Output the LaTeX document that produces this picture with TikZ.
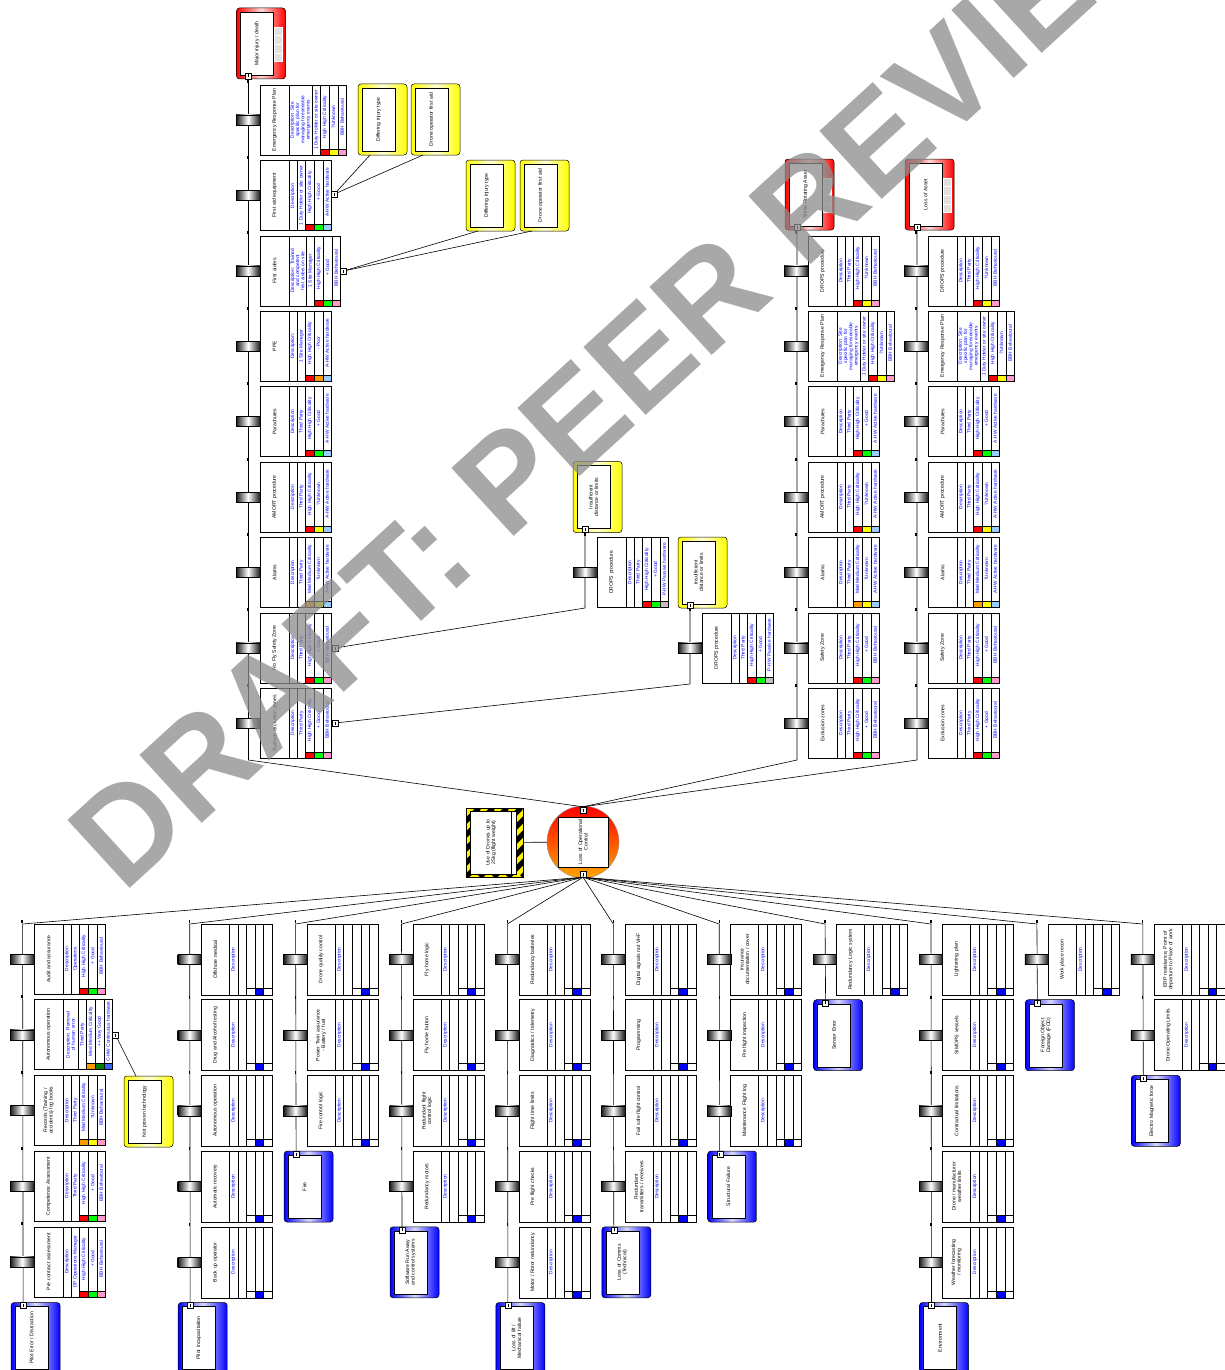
\documentclass[tikz,border=0pt]{standalone}
\usepackage{fontspec}
\setmainfont{Liberation Sans}
\usetikzlibrary{calc}
\hyphenpenalty=10000
\exhyphenpenalty=10000
\definecolor{hhigh}{HTML}{FF0000}
\definecolor{hmed}{HTML}{FF9900}
\definecolor{egood}{HTML}{00FF00}
\definecolor{evgood}{HTML}{008000}
\definecolor{eunk}{HTML}{FFFF00}
\definecolor{epoor}{HTML}{FF9900}
\definecolor{tbbh}{HTML}{FF99CC}
\definecolor{tahw}{HTML}{99CCFF}
\definecolor{tchw}{HTML}{3366FF}
\definecolor{tphw}{HTML}{C0C0C0}
\tikzset{
  ln/.style={black,line width=0.6pt},
  cell/.style={draw=black,line width=0.5pt},
  nm/.style={rotate=90,font=\fontsize{5.1}{5.6}\selectfont,align=center,text width=63pt,inner sep=0pt},
  pr/.style={rotate=90,font=\fontsize{4.8}{5.2}\selectfont,align=center,text width=62pt,inner sep=0pt,text=blue},
  minus/.style={draw,fill=white,minimum size=6pt,inner sep=0pt,line width=0.4pt},
  chipst/.style={draw=black,line width=0.3pt,left color=black!90,right color=black!90,middle color=white},
  tick/.style={line width=1.3pt}
}
% barrier with data: desc width, x,y, name, desc, resp, crit, eff, type, colours
\newcommand\bbar[9]{%
\begin{scope}[shift={(#2)}]
\pgfmathsetmacro\xa{29+#1}
\draw[cell,fill=white] (0,0) rectangle (\xa+34.4,70);
\draw[cell] (29,0) -- (29,70);
\foreach \k in {0,1,2,3} \draw[cell] (\xa+8.6*\k,0) -- (\xa+8.6*\k,70);
\foreach \cc [count=\ci] in {#9} \draw[cell,fill=\cc] (\xa+8.6*\ci,64) rectangle ++(8.6,6);
\node[nm] (bn) at (14.5,35) {#3};
\node[pr] (bd) at (29+#1/2,35) {#4};
\node[pr] (br) at (\xa+4.3,35) {#5};
\node[pr] (bc) at (\xa+12.9,32) {#6};
\node[pr] (be) at (\xa+21.5,32) {#7};
\node[pr] (bt) at (\xa+30.1,32) {#8};
\shade[chipst] (-24,30) rectangle (0,40);
\draw[tick] (-12,-4.5) -- (-12,-1.5);
\end{scope}}
% empty barrier on the threat side: column, row, name
\newcommand\tb[3]{%
\pgfmathsetmacro\bx{(#1==1 ? 22.6 : 189.7+105.9*(#1-2))+11.5}
\pgfmathsetmacro\by{924+75.7*(#2-1)}
\begin{scope}[shift={(\bx,\by)}]
\draw[cell,fill=white] (0,0) rectangle (71,71);
\foreach \k in {28,36.6,45.2,53.8,62.4} \draw[cell] (\k,0) -- (\k,71);
\draw[cell,fill=blue] (53.8,64) rectangle (62.4,71);
\draw[cell] (45.2,64) -- (71,64);
\node[nm] (tn) at (14,35.5) {#3};
\node[pr] (td) at (32.3,35.5) {Description};
\shade[chipst] (-23.5,30.5) rectangle (0,40.5);
\draw[tick] (-11.5,-4) -- (-11.5,-1);
\end{scope}}
% rounded box: name, x,y, colour, text, link y
\newcommand\riskbox[5]{%
\begin{scope}[shift={(#2)}]
\shade[draw=black,line width=.5pt,rounded corners=3pt,left color=#3,right color=#3,middle color=#3!15] (0,0) rectangle (49,71);
\draw[fill=white,line width=.4pt] (4,4) rectangle (37,67);
\node[nm,text width=60pt] (#1-t) at (20.5,35.5) {#4};
\coordinate (#1) at (12,#5);
\end{scope}}
\newcommand\thr[3]{\pgfmathsetmacro\bx{(#1==1 ? 22.6 : 189.7+105.9*(#1-2))-11.5}%
\pgfmathsetmacro\by{924+75.7*(#2-1)}\riskbox{th#1}{\bx,\by}{blue}{#3}{3}}

\begin{document}
\begin{tikzpicture}[x=1pt,y=-1pt]
\useasboundingbox (0,0) rectangle (1225,1370);
\clip (0,0) rectangle (1225,1370);
\fill[white] (0,0) rectangle (1225,1370);

% hazard
\begin{scope}
\clip (466,808) rectangle (523,877);
\fill[yellow] (466,808) rectangle (523,877);
\foreach \s in {-84,-70,...,70} \draw[line width=5pt] (466+\s,877) -- ++(69,-69);
\end{scope}
\node[draw,line width=.6pt,minimum width=57pt,minimum height=69pt,inner sep=0pt] (hz) at (494.5,842.5) {};
\draw[fill=white,line width=.4pt] (470,811) rectangle (516,874);
\draw[line width=.4pt] (511,811) -- (511,874);
\node[nm,text width=52pt] (hz-t) at (491,842.5) {Use of Drones up to 25kg (flight weight)};

% top event
\node[circle,minimum size=72pt,inner sep=0pt,draw=black!40,top color=red,bottom color=orange!70!yellow] (te) at (583,842) {};
\node[draw,fill=white,minimum size=50pt,inner sep=0pt] (te-b) at (583,842) {};
\node[nm,text width=48pt] (te-t) at (583,842) {Loss of Operational Control};
\node[minus] (te-top) at (583,810) {\rule{.5pt}{3pt}};
\node[minus] (te-bot) at (583,874) {\rule{.5pt}{3pt}};
\draw[ln] (hz) -- (te);

% consequences and escalation factors
\riskbox{ca}{236.5,8}{red}{Major injury / death}{68}
\riskbox{cb}{785,159}{red}{Strike Rotating Asset}{68}
\riskbox{cc}{905,159}{red}{Loss of Asset}{68}
\foreach \cx/\cy in {236.5/8,785/159,905/159} \foreach \q in {0,...,3}
  \draw[fill=black!12,draw=white,line width=.4pt] (\cx+38,\cy+19+8.6*\q) rectangle ++(8,8.6);
\riskbox{ef1}{358,84}{yellow}{Differing injury type}{71}
\riskbox{ef2}{411,84}{yellow}{Drone operator first aid}{71}
\riskbox{ef3}{466,160}{yellow}{Differing injury type}{71}
\riskbox{ef4}{520,160}{yellow}{Drone operator first aid}{71}
\riskbox{esc1}{573,461.5}{yellow}{Insufficient distance or limits}{68}
\riskbox{esc2}{678,537}{yellow}{Insufficient distance or limits}{68}
\riskbox{ef5}{124,1076}{yellow}{Not proven technology}{0}

% threats
\thr{1}{6}{Pilot Error / Distraction}
\thr{2}{6}{Pilot Incapacitation}
\thr{3}{4}{Fire}
\thr{4}{5}{Software Run Away and control systems}
\thr{5}{6}{Loss of lift / Mechanical failure}
\thr{6}{5}{Loss of Comms (Technical)}
\thr{7}{4}{Structural Failure}
\thr{8}{2}{Sensor Error}
\thr{9}{6}{Environment}
\thr{10}{2}{Foreign Object Damage (FOD)}
\thr{11}{3}{Electro Magnetic force}
\foreach \n in {ca,cb,cc,esc1,esc2,th1,th2,th3,th4,th5,th6,th7,th8,th9,th10,th11}
  \node[minus] (\n-m) at (\n) {\rule{.5pt}{3pt}};
\node[minus] (fae-m) at (334.5,194) {\rule{.5pt}{3pt}};
\node[minus] (fas-m) at (343.5,271) {\rule{.5pt}{3pt}};
\node[minus] (nfz-m) at (335,648) {\rule{.5pt}{3pt}};
\node[minus] (sez-m) at (335,723) {\rule{.5pt}{3pt}};
\node[minus] (ao-m) at (115.5,1035) {\rule{.5pt}{3pt}};

% connectors
\coordinate (ca-end) at (248.5,760);
\coordinate (cb-end) at (797,760);
\coordinate (cc-end) at (917,760);
\coordinate (e1-end) at (585,608);
\coordinate (e2-end) at (690,684);
\foreach \n in {ca,cb,cc} \draw[ln] (\n-m) -- (\n-end) -- (te-top.north);
\draw[ln] (nfz-m) -- (e1-end) -- (esc1-m);
\draw[ln] (sez-m) -- (e2-end) -- (esc2-m);
\draw[ln] (fae-m) -- (ef1); \draw[ln] (fae-m) -- (ef2);
\draw[ln] (fas-m) -- (ef3); \draw[ln] (fas-m) -- (ef4);
\draw[ln] (ao-m) -- (ef5);
\foreach \k/\cx in {1/22.6,2/189.7,3/295.6,4/401.5,5/507.4,6/613.3,7/719.2,8/825.1,9/931,10/1036.9,11/1142.8}
  \coordinate (top\k) at (\cx,924);
\foreach \k in {1,...,11} \draw[ln] (te-bot.south) -- (top\k) -- (th\k-m);

% consequence side barriers
\bbar{23}{260,85}{Emergency Response Plan}{Description: Site specific plan for managing foreseeable emergency events}{1 Duty Holder or site owner}{High High Criticality}{?Unknown}{BBH Behavioural}{hhigh,eunk,tbbh}
\bbar{8}{260,160.4}{First aid equipment}{Description:}{1 Duty Holder or site owner}{High High Criticality}{+ Good}{A-HW Active hardware}{hhigh,egood,tahw}
\bbar{17}{260,235.8}{First aiders}{Description: Trained and competent first aiders on site}{1 Site Manager}{High High Criticality}{+ Good}{BBH Behavioural}{hhigh,egood,tbbh}
\bbar{8}{260,311.2}{PPE}{Description:}{1 Site Manager}{High High Criticality}{- Poor}{A-HW Active hardware}{hhigh,epoor,tahw}
\bbar{8}{260,386.6}{Parachutes}{Description}{Third Party}{High High Criticality}{+ Good}{A-HW Active hardware}{hhigh,egood,tahw}
\bbar{8}{260,462}{AMORT procedure}{Description}{Third Party}{High High Criticality}{?Unknown}{A-HW Active hardware}{hhigh,eunk,tahw}
\bbar{8}{260,537.4}{Alarms}{Description}{Third Party}{Med Medium Criticality}{?Unknown}{A-HW Active hardware}{hmed,eunk,tahw}
\bbar{8}{260,612.8}{No Fly Safety Zone}{Description}{Third Party}{High High Criticality}{+ Good}{BBH Behavioural}{hhigh,egood,tbbh}
\bbar{8}{260,688.2}{Surface exclusion zones}{Description}{Third Party}{High High Criticality}{+ Good}{BBH Behavioural}{hhigh,egood,tbbh}
\bbar{8}{597,537.4}{DROPS procedure}{Description}{Third Party}{High High Criticality}{+ Good}{P-HW Passive hardware}{hhigh,egood,tphw}
\bbar{8}{702,612.8}{DROPS procedure}{Description}{Third Party}{High High Criticality}{+ Good}{P-HW Passive hardware}{hhigh,egood,tphw}
\foreach \bx in {808,928}{
\bbar{8}{\bx,235.8}{DROPS procedure}{Description}{Third Party}{High High Criticality}{?Unknown}{BBH Behavioural}{hhigh,eunk,tbbh}
\bbar{23}{\bx,311.2}{Emergency Response Plan}{Description: Site specific plan for managing foreseeable emergency events}{1 Duty Holder or site owner}{High High Criticality}{?Unknown}{BBH Behavioural}{hhigh,eunk,tbbh}
\bbar{8}{\bx,386.6}{Parachutes}{Description}{Third Party}{High High Criticality}{+ Good}{A-HW Active hardware}{hhigh,egood,tahw}
\bbar{8}{\bx,462}{AMORT procedure}{Description}{Third Party}{High High Criticality}{?Unknown}{A-HW Active hardware}{hhigh,eunk,tahw}
\bbar{8}{\bx,537.4}{Alarms}{Description}{Third Party}{Med Medium Criticality}{?Unknown}{A-HW Active hardware}{hmed,eunk,tahw}
\bbar{8}{\bx,612.8}{Safety Zone}{Description}{Third Party}{High High Criticality}{+ Good}{BBH Behavioural}{hhigh,egood,tbbh}
\bbar{8}{\bx,688.2}{Exclusion zones}{Description}{Third Party}{High High Criticality}{+ Good}{BBH Behavioural}{hhigh,egood,tbbh}
}

% threat side barriers
\bbar{8}{34.1,924}{Audit and assurance}{Description}{Operations}{High High Criticality}{+ Good}{BBH Behavioural}{hhigh,egood,tbbh}
\bbar{15}{34.1,999.7}{Autonomous operation}{Description: Removal of human error}{Third Party}{Med Medium Criticality}{++ Very Good}{C-HW Continuous hardware}{hmed,evgood,tchw}
\bbar{8}{34.1,1075.4}{Records (Training / accidents) log books}{Description}{Third Party}{Med Medium Criticality}{?Unknown}{BBH Behavioural}{hmed,eunk,tbbh}
\bbar{8}{34.1,1151.1}{Competence Assessment}{Description}{Third Party}{High High Criticality}{+ Good}{BBH Behavioural}{hhigh,egood,tbbh}
\bbar{8}{34.1,1226.8}{Pre contract assessment}{Description}{DP Operations Manager}{High High Criticality}{+ Good}{BBH Behavioural}{hhigh,egood,tbbh}
\tb{2}{1}{Offshore medical}
\tb{2}{2}{Drug and Alcohol testing}
\tb{2}{3}{Autonomous operation}
\tb{2}{4}{Automatic recovery}
\tb{2}{5}{Back up operator}
\tb{3}{1}{Drone quality control}
\tb{3}{2}{Power Twin assurance - Battery / fuel}
\tb{3}{3}{Fire control logic}
\tb{4}{1}{Fly home logic}
\tb{4}{2}{Fly home button}
\tb{4}{3}{Redundant flight control logic}
\tb{4}{4}{Redundancy motors}
\tb{5}{1}{Redundancy batteries}
\tb{5}{2}{Diagnostics / telemetry}
\tb{5}{3}{Flight time limits}
\tb{5}{4}{Pre flight checks}
\tb{5}{5}{Motor / Rotor redundancy}
\tb{6}{1}{Digital signals not VHF}
\tb{6}{2}{Programming}
\tb{6}{3}{Fail safe flight control}
\tb{6}{4}{Redundant transmitters / receivers}
\tb{7}{1}{Insurance documentation / cover}
\tb{7}{2}{Pre flight inspection}
\tb{7}{3}{Maintenance Flight log}
\tb{8}{1}{Redundancy Logic system}
\tb{9}{1}{Lightening plan}
\tb{9}{2}{SIMOPS vessels}
\tb{9}{3}{Contractual limitations}
\tb{9}{4}{Drone / manufacturer weather limits}
\tb{9}{5}{Weather forecasting / monitoring}
\tb{10}{1}{Work place recon}
\tb{11}{1}{ERP resistance, Point of departure to Place of work}
\tb{11}{2}{Drone Operating Limits}

% watermark
\node[rotate=42.5,text=black!45,opacity=0.75,font=\fontsize{134}{134}\selectfont\bfseries,inner sep=0pt] (wm) at (628,370) {DRAFT: PEER REVIEW};
\end{tikzpicture}
\end{document}
